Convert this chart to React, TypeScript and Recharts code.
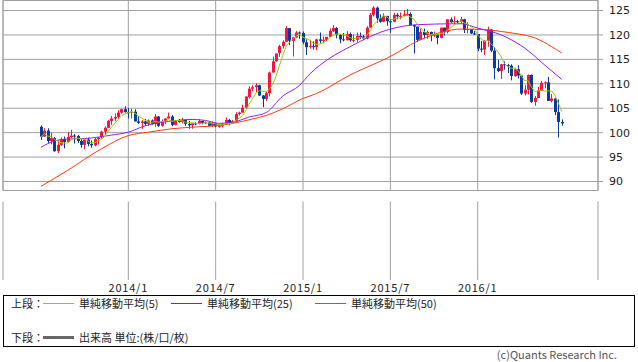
import { ComposedChart, Bar, Line, XAxis, YAxis, CartesianGrid, ReferenceArea } from 'recharts'

// weekly candles, week 0 = 2013/7/8
const opens = [
  101.2, 99.2, 100.4, 98.3, 98.9, 96.2, 97.5, 98.7, 98.1, 99.1,
  99.4, 99.3, 98.3, 97.5, 98.6, 97.7, 97.4, 98.7, 99.0, 100.2,
  101.0, 102.4, 102.9, 103.2, 104.1, 104.8, 104.2, 104.1, 104.3, 102.3,
  102.0, 102.3, 101.8, 102.5, 101.8, 103.3, 101.4, 102.3, 102.9, 103.3,
  101.6, 102.4, 102.2, 102.6, 101.8, 101.5, 101.9, 101.8, 102.4, 102.0,
  102.1, 101.4, 102.0, 101.3, 101.4, 101.8, 102.6, 102.0, 102.4, 103.8,
  104.1, 105.1, 107.3, 109.0, 109.3, 109.7, 107.6, 106.9, 108.1, 112.3,
  114.6, 116.3, 117.7, 118.6, 121.4, 118.8, 119.5, 120.5, 120.4, 118.5,
  117.5, 117.7, 117.5, 119.1, 118.8, 119.0, 119.6, 120.8, 121.4, 120.0,
  119.1, 118.9, 120.2, 118.9, 119.0, 119.8, 119.7, 119.3, 121.5, 124.1,
  125.6, 123.4, 122.7, 123.9, 122.8, 122.7, 124.1, 123.8, 123.9, 124.2,
  124.3, 122.0, 121.7, 119.0, 120.6, 120.0, 120.6, 119.9, 120.2, 119.4,
  121.5, 120.6, 123.2, 122.6, 122.8, 122.7, 123.2, 121.0, 121.2, 120.3,
  120.2, 117.2, 117.0, 118.8, 121.1, 116.8, 113.2, 112.6, 114.0, 113.8,
  113.7, 111.6, 113.0, 111.7, 108.0, 108.8, 111.8, 106.3, 107.1, 108.6,
  110.2, 110.3, 106.5, 107.0, 104.2, 102.2,
]
const highs = [
  101.5, 100.9, 100.9, 100.0, 99.1, 98.4, 99.0, 99.2, 100.2, 100.6,
  99.7, 99.5, 98.7, 98.6, 99.0, 98.4, 98.9, 99.1, 100.4, 101.3,
  102.6, 103.4, 103.9, 104.6, 104.9, 105.4, 105.0, 104.9, 104.8, 103.4,
  102.6, 102.8, 102.7, 102.7, 103.8, 103.4, 102.7, 103.0, 104.1, 103.6,
  102.6, 102.8, 103.0, 102.7, 102.4, 102.0, 102.1, 102.8, 102.4, 102.3,
  102.2, 102.3, 102.0, 101.8, 102.0, 103.1, 102.8, 102.6, 104.2, 104.3,
  105.7, 107.4, 109.5, 109.7, 110.1, 109.8, 107.7, 108.4, 112.5, 115.6,
  116.2, 118.0, 118.9, 121.8, 121.4, 119.6, 120.8, 120.7, 120.7, 119.1,
  119.0, 118.7, 119.2, 120.5, 119.7, 119.6, 121.3, 122.0, 121.6, 120.2,
  120.4, 120.8, 120.5, 120.1, 120.5, 120.5, 120.0, 121.8, 124.5, 125.9,
  125.8, 124.2, 124.4, 123.9, 123.2, 124.5, 124.5, 124.6, 125.0, 125.3,
  124.6, 122.1, 121.7, 121.3, 121.3, 120.9, 120.7, 120.7, 120.2, 121.5,
  121.5, 123.2, 123.6, 123.8, 123.1, 123.7, 123.3, 122.6, 121.2, 120.8,
  120.2, 118.8, 118.9, 121.7, 121.2, 117.5, 114.9, 114.0, 114.6, 114.1,
  114.0, 113.3, 113.8, 111.7, 109.7, 111.9, 111.9, 107.5, 109.4, 110.6,
  110.5, 111.4, 107.9, 107.0, 106.8, 102.7,
]
const lows = [
  98.5, 99.1, 97.8, 97.6, 96.1, 95.8, 97.3, 96.8, 98.0, 98.9,
  97.8, 97.9, 96.9, 96.6, 97.2, 96.9, 97.2, 97.6, 98.8, 99.6,
  100.9, 101.6, 102.4, 102.8, 103.9, 104.1, 102.9, 102.9, 102.3, 101.8,
  100.8, 101.4, 101.4, 101.6, 101.2, 101.2, 101.2, 101.7, 102.9, 101.3,
  101.5, 102.0, 101.9, 101.4, 100.8, 100.8, 101.5, 101.7, 101.7, 101.8,
  101.3, 101.2, 101.1, 101.0, 101.1, 101.6, 101.5, 101.9, 102.3, 103.5,
  104.1, 105.0, 107.0, 108.5, 108.3, 107.5, 105.2, 106.5, 107.4, 112.3,
  114.5, 115.5, 117.2, 118.6, 117.9, 115.6, 119.4, 119.2, 118.1, 115.9,
  117.2, 117.0, 116.9, 118.3, 118.3, 118.7, 119.6, 120.6, 119.3, 118.3,
  118.7, 118.9, 118.6, 118.5, 118.6, 119.2, 118.9, 119.1, 121.5, 123.8,
  122.5, 122.5, 122.6, 121.9, 120.4, 122.6, 123.2, 123.2, 123.9, 123.9,
  121.9, 116.2, 118.6, 119.0, 119.3, 119.2, 118.7, 119.6, 118.1, 119.3,
  119.9, 120.3, 122.5, 122.2, 122.2, 122.3, 120.4, 120.3, 120.2, 120.0,
  116.7, 116.5, 115.9, 117.6, 116.5, 110.9, 112.4, 111.0, 112.9, 112.2,
  110.7, 111.4, 111.1, 107.7, 107.6, 107.8, 106.1, 105.5, 107.1, 108.6,
  109.1, 106.5, 106.2, 103.6, 99.0, 101.4,
]
const closes = [
  99.2, 100.4, 98.3, 98.9, 96.2, 97.5, 98.7, 98.1, 99.1, 99.4,
  99.3, 98.3, 97.5, 98.6, 97.7, 97.4, 98.7, 99.0, 100.2, 101.0,
  102.4, 102.9, 103.2, 104.1, 104.8, 104.2, 104.1, 104.3, 102.3, 102.0,
  102.3, 101.8, 102.5, 101.8, 103.3, 101.4, 102.3, 102.9, 103.3, 101.6,
  102.4, 102.2, 102.6, 101.8, 101.5, 101.9, 101.8, 102.4, 102.0, 102.1,
  101.4, 102.0, 101.3, 101.4, 101.8, 102.6, 102.0, 102.4, 103.8, 104.1,
  105.1, 107.4, 109.0, 109.3, 109.7, 107.6, 106.9, 108.1, 112.3, 114.6,
  116.2, 117.7, 118.6, 121.4, 118.8, 119.5, 120.5, 120.4, 118.5, 117.5,
  117.7, 117.5, 119.1, 118.8, 119.0, 119.6, 120.8, 121.4, 120.0, 119.1,
  118.9, 120.2, 118.9, 119.0, 119.8, 119.7, 119.3, 121.5, 124.1, 125.6,
  123.4, 122.7, 123.9, 122.8, 122.7, 124.1, 123.8, 123.9, 124.2, 124.3,
  122.0, 121.7, 119.0, 120.6, 120.0, 120.6, 119.9, 120.2, 119.4, 121.5,
  120.6, 123.2, 122.6, 122.8, 122.7, 123.2, 121.0, 121.2, 120.3, 120.2,
  117.2, 117.0, 118.8, 121.1, 116.8, 113.2, 112.6, 114.0, 113.8, 113.7,
  111.6, 113.0, 111.7, 108.0, 108.8, 111.8, 106.3, 107.1, 108.6, 110.2,
  110.3, 106.5, 107.0, 104.2, 102.2, 101.9,
]

// 25/50 week averages at sample weeks
const ma25Weeks = [0, 4, 8, 13, 21, 26, 31, 38, 45, 49, 53, 57, 62, 67, 72, 77, 80, 83, 92, 104, 112, 125, 130, 137, 144, 150, 155]
const ma25Values = [97.0, 98.3, 98.7, 98.8, 99.5, 100.1, 101.4, 102.3, 102.7, 102.5, 101.9, 102.1, 103.2, 104.1, 107.5, 109.7, 112.0, 113.8, 117.6, 121.2, 122.1, 122.3, 121.4, 120.0, 117.3, 113.8, 110.9]
const ma50Weeks = [0, 8, 18, 26, 32, 39, 47, 52, 57, 63, 67, 72, 78, 82, 92, 104, 112, 120, 125, 132, 137, 142, 147, 152, 155]
const ma50Values = [89.0, 92.3, 96.7, 99.4, 100.1, 100.8, 101.2, 101.4, 101.9, 102.8, 103.5, 104.9, 107.0, 108.0, 111.8, 115.6, 118.7, 120.7, 121.2, 121.1, 120.7, 120.2, 119.4, 117.6, 116.3]

const dateTicks = [26, 52, 78, 104, 130]
const dateLabels = ['2014/1', '2014/7', '2015/1', '2015/7', '2016/1']
const priceTicks = [90, 95, 100, 105, 110, 115, 120, 125]

const X_DOMAIN: [number, number] = [-11.3, 165.8]
const Y_DOMAIN: [number, number] = [88.16, 127.05]

const UP = '#f4163f'
const DOWN = '#0b3a9c'
const GRID = '#a0a0a0'
const CJK = '"Noto Sans CJK JP", sans-serif'

const weeks = closes.map((c, i) => {
  const from = Math.max(0, i - 4)
  const last5 = closes.slice(from, i + 1)
  const k25 = ma25Weeks.indexOf(i)
  const k50 = ma50Weeks.indexOf(i)
  return {
    i,
    o: opens[i],
    h: highs[i],
    l: lows[i],
    c,
    ma5: last5.reduce((a, b) => a + b, 0) / last5.length,
    ma25: k25 >= 0 ? ma25Values[k25] : null,
    ma50: k50 >= 0 ? ma50Values[k50] : null,
  }
})

function Candle (props: any) {
  const { x, y, width, height, payload } = props
  if (x == null || y == null || !payload) return null
  const { o, h, l, c } = payload
  const top = Math.min(y, y + height)
  const span = Math.abs(height)
  const k = h > l ? span / (h - l) : 0
  const bodyTop = top + (h - Math.max(o, c)) * k
  const bodyBottom = top + (h - Math.min(o, c)) * k
  const cx = Math.round(x + width / 2)
  const color = c >= o ? UP : DOWN
  return (
    <g>
      <line x1={cx + 0.5} x2={cx + 0.5} y1={top} y2={top + span} stroke={color} strokeWidth={1} />
      <rect x={cx - 1} y={bodyTop} width={3} height={Math.max(1, bodyBottom - bodyTop)} fill={color} />
    </g>
  )
}

function LegendItem ({ left, color, thick, label }: { left: number, color: string, thick?: boolean, label: string }) {
  return (
    <>
      <div style={{ position: 'absolute', left, top: thick ? 6 : 7, width: 31, height: 0, borderTop: `${thick ? 3 : 1}px solid ${color}` }} />
      <span style={{ position: 'absolute', left: left + 36, top: 0, whiteSpace: 'nowrap' }}>{label}</span>
    </>
  )
}

export default function App () {
  return (
    <div style={{ position: 'absolute', left: 0, top: 0, width: 638, height: 362, background: '#fff', fontFamily: CJK, color: '#333' }}>
      <div style={{ position: 'absolute', left: 0, top: 0 }}>
        <ComposedChart width={638} height={191} data={weeks} margin={{ top: 0.5, right: 0, left: 3, bottom: 0.5 }}>
          <CartesianGrid stroke={GRID} />
          <XAxis type="number" dataKey="i" domain={X_DOMAIN} allowDataOverflow ticks={dateTicks} hide />
          <YAxis
            orientation="right"
            width={40}
            domain={Y_DOMAIN}
            allowDataOverflow
            ticks={priceTicks}
            axisLine={false}
            tickLine={{ stroke: GRID }}
            tickSize={5}
            tickMargin={6}
            tick={{ fontSize: 11, fill: '#222', fontFamily: '"DejaVu Sans", sans-serif' }}
          />
          <ReferenceArea x1={X_DOMAIN[0]} x2={X_DOMAIN[1]} y1={Y_DOMAIN[0]} y2={Y_DOMAIN[1]} fill="none" stroke={GRID} ifOverflow="visible" />
          <Bar dataKey={(d: any) => [d.l, d.h]} shape={Candle} barSize={3} isAnimationActive={false} />
          <Line dataKey="ma50" type="monotone" stroke="#ff3a0a" strokeWidth={1} dot={false} connectNulls isAnimationActive={false} />
          <Line dataKey="ma25" type="monotone" stroke="#9a1cf0" strokeWidth={1} dot={false} connectNulls isAnimationActive={false} />
          <Line dataKey="ma5" type="linear" stroke="#99cc00" strokeWidth={1} dot={false} isAnimationActive={false} />
        </ComposedChart>
      </div>

      <div style={{ position: 'absolute', left: 0, top: 201 }}>
        <ComposedChart width={638} height={94} data={weeks} margin={{ top: 0.5, right: 40, left: 3, bottom: 0 }}>
          <CartesianGrid stroke={GRID} horizontal={false} />
          <XAxis
            type="number"
            dataKey="i"
            domain={X_DOMAIN}
            allowDataOverflow
            ticks={dateTicks}
            interval={0}
            tickFormatter={(v: number) => dateLabels[dateTicks.indexOf(v)]}
            axisLine={false}
            tickLine={false}
            tickSize={0}
            tickMargin={4}
            height={15}
            tick={{ fontSize: 11, fill: '#222', fontFamily: CJK, letterSpacing: 0.8 }}
          />
          <YAxis hide domain={[0, 1]} />
          <ReferenceArea x1={X_DOMAIN[0]} x2={X_DOMAIN[1]} y1={0} y2={1} fill="none" stroke={GRID} ifOverflow="visible" />
        </ComposedChart>
      </div>

      <div style={{ position: 'absolute', left: 3, top: 295, width: 632, height: 52, border: '1px solid #000', boxSizing: 'border-box', fontSize: 11, lineHeight: '14px', color: '#222' }}>
        <div style={{ position: 'absolute', left: 0, top: 0, width: '100%', height: 14 }}>
          <span style={{ position: 'absolute', left: 7, top: 0 }}>上段：</span>
          <LegendItem left={39} color="#99cc00" label="単純移動平均(5)" />
          <LegendItem left={167} color="#8a10f0" label="単純移動平均(25)" />
          <LegendItem left={311} color="#ff3a0a" label="単純移動平均(50)" />
        </div>
        <div style={{ position: 'absolute', left: 0, top: 34, width: '100%', height: 14 }}>
          <span style={{ position: 'absolute', left: 7, top: 0 }}>下段：</span>
          <LegendItem left={39} color="#666" thick label="出来高 単位:(株/口/枚)" />
        </div>
      </div>

      <div style={{ position: 'absolute', right: 21, top: 348, fontSize: 11, lineHeight: '12px', color: '#555' }}>
        (c)Quants Research Inc.
      </div>
    </div>
  )
}
